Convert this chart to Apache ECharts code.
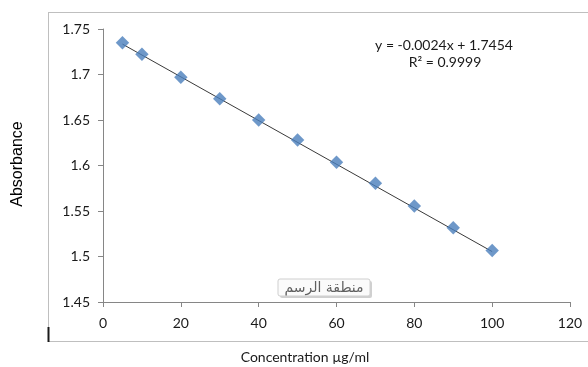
<!DOCTYPE html>
<html>
<head>
<meta charset="utf-8">
<script src="https://cdn.jsdelivr.net/npm/echarts@6/dist/echarts.min.js"></script>
<style>
html,body{margin:0;padding:0;background:#fff;}
#chart{width:588px;height:367px;}
</style>
</head>
<body>
<div id="chart"></div>
<script>
// Data
const concentration = [5, 10, 20, 30, 40, 50, 60, 70, 80, 90, 100];
const absorbance = [1.7349, 1.7222, 1.6969, 1.6734, 1.6500, 1.6280, 1.6035, 1.5804, 1.5555, 1.5316, 1.5066];
const trendSlope = -0.0024;
const trendIntercept = 1.7454;
const trendRange = [5, 100];
const equationText = 'y = -0.0024x + 1.7454';
const r2Text = 'R² = 0.9999';
const xTitle = 'Concentration µg/ml';
const yTitle = 'Absorbance';
const plotAreaLabel = 'منطقة الرسم';

const scatterData = concentration.map((x, i) => [x, absorbance[i]]);
const trendData = trendRange.map(x => [x, trendSlope * x + trendIntercept]);

const chart = echarts.init(document.getElementById('chart'), null, {renderer: 'canvas'});
const labelFont = 'Lato, "Open Sans", "Noto Sans", sans-serif';

chart.setOption({
  animation: false,
  backgroundColor: '#ffffff',
  grid: {left: 103, top: 29, right: 18, bottom: 65, containLabel: false},
  xAxis: {
    type: 'value', min: 0, max: 120, interval: 20,
    axisLine: {show: true, lineStyle: {color: '#868686', width: 1}},
    axisTick: {show: true, inside: false, length: 5, lineStyle: {color: '#868686'}},
    splitLine: {show: false},
    axisLabel: {color: '#1a1a1a', fontSize: 14, fontFamily: labelFont, margin: 14}
  },
  yAxis: {
    type: 'value', min: 1.45, max: 1.75, interval: 0.05,
    axisLine: {show: true, lineStyle: {color: '#868686', width: 1}},
    axisTick: {show: true, inside: false, length: 5, lineStyle: {color: '#868686'}},
    splitLine: {show: false},
    axisLabel: {color: '#1a1a1a', fontSize: 14, fontFamily: labelFont, margin: 13,
      formatter: v => String(parseFloat(v.toFixed(2)))}
  },
  series: [
    {
      type: 'line', data: trendData, showSymbol: false, symbol: 'none',
      lineStyle: {color: '#3a3a3a', width: 1}, z: 2, silent: true
    },
    {
      type: 'scatter', data: scatterData, symbol: 'rect', symbolSize: 9.5, symbolRotate: 45,
      itemStyle: {color: '#4a7ebb'}, z: 3
    }
  ],
  graphic: [
    {type: 'line', shape: {x1: 48.5, y1: 12, x2: 48.5, y2: 341}, style: {stroke: '#bfbfbf', lineWidth: 1}},
    {type: 'line', shape: {x1: 48, y1: 12.5, x2: 588, y2: 12.5}, style: {stroke: '#bfbfbf', lineWidth: 1}},
    {type: 'line', shape: {x1: 48, y1: 341.5, x2: 588, y2: 341.5}, style: {stroke: '#bfbfbf', lineWidth: 1}},
    {type: 'line', shape: {x1: 48.5, y1: 327, x2: 48.5, y2: 342}, style: {stroke: '#1a1a1a', lineWidth: 2}},
    {type: 'text', x: 18, y: 164, rotation: Math.PI / 2, style: {text: yTitle, fill: '#000', font: '16px "Liberation Sans", Arial, sans-serif', align: 'center', verticalAlign: 'middle'}},
    {type: 'text', x: 305, y: 357, style: {text: xTitle, fill: '#1a1a1a', font: '14px ' + labelFont, align: 'center', verticalAlign: 'middle'}},
    {type: 'text', x: 444, y: 45, style: {text: equationText, fill: '#1a1a1a', font: '14px ' + labelFont, align: 'center', verticalAlign: 'middle'}},
    {type: 'text', x: 445, y: 62, style: {text: r2Text, fill: '#1a1a1a', font: '14px ' + labelFont, align: 'center', verticalAlign: 'middle'}},
    {type: 'rect', shape: {x: 280, y: 281, width: 92, height: 17, r: 2}, style: {fill: '#d0d0d0'}, z: 10},
    {type: 'rect', shape: {x: 278, y: 279, width: 92, height: 17, r: 2}, style: {fill: '#fbfbfb', stroke: '#cfcfcf', lineWidth: 1}, z: 11},
    {type: 'text', x: 324, y: 288, z: 12, style: {text: plotAreaLabel, fill: '#606060', font: '14px "DejaVu Sans", sans-serif', align: 'center', verticalAlign: 'middle'}}
  ]
});
</script>
</body>
</html>
